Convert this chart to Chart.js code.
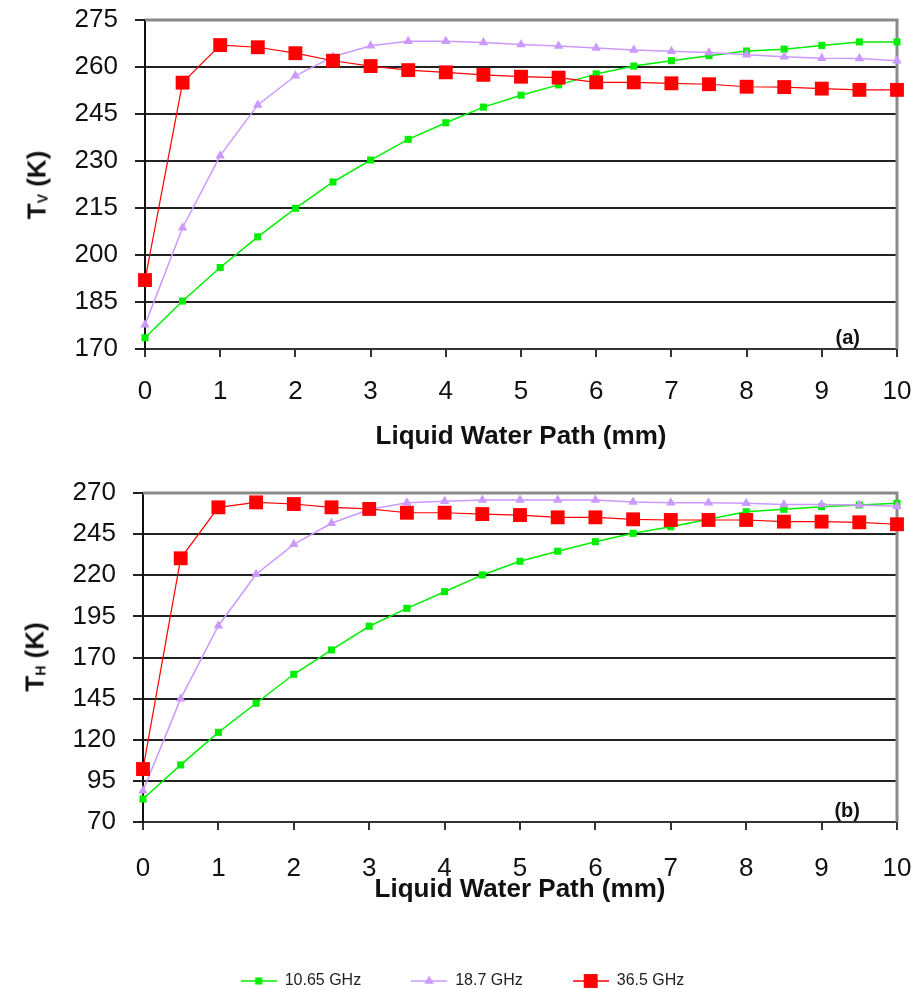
<!DOCTYPE html>
<html>
<head>
<meta charset="utf-8">
<script src="https://cdn.jsdelivr.net/npm/chart.js@4.4.1/dist/chart.umd.min.js"></script>
<style>
  html, body { margin: 0; padding: 0; background: #fff; overflow: hidden; }
  body { width: 924px; height: 989px; position: relative; font-family: "Liberation Sans", Arial, sans-serif; }
  canvas { position: absolute; left: 0; }
  #tvChart { top: 0; }
  #thChart { top: 460px; }
  .ytitle { position: absolute; font-weight: bold; font-size: 26px; white-space: nowrap; color: #111;
            transform: translate(-50%, -50%) rotate(-90deg); }
  .ytitle sub { font-size: 14px; vertical-align: -2px; }
</style>
</head>
<body>
<canvas id="tvChart" width="924" height="460"></canvas>
<canvas id="thChart" width="924" height="539"></canvas>
<div class="ytitle" style="left:37px; top:185px">T<sub>V</sub> (K)</div>
<div class="ytitle" style="left:35px; top:657px">T<sub>H</sub> (K)</div>
<script>
// liquid water path (mm)
const lwp = [0, 0.5, 1, 1.5, 2, 2.5, 3, 3.5, 4, 4.5, 5, 5.5, 6, 6.5, 7, 7.5, 8, 8.5, 9, 9.5, 10];
const seriesNames = ['10.65 GHz', '18.7 GHz', '36.5 GHz'];

// (a) vertical polarisation, K
const tv1065 = [173.6, 185.3, 196, 205.8, 214.9, 223.3, 230.3, 236.9, 242.2, 247.2, 251, 254.3, 257.8, 260.3, 262, 263.6, 265.1, 265.7, 266.9, 268, 268];
const tv187 = [177.7, 208.7, 231.7, 247.9, 257.2, 263.3, 266.8, 268.2, 268.2, 267.8, 267.2, 266.7, 266.1, 265.4, 265, 264.6, 263.9, 263.3, 262.8, 262.7, 262];
const tv365 = [192, 255, 267, 266.3, 264.4, 262, 260.3, 259, 258.3, 257.5, 256.9, 256.6, 255.1, 255.1, 254.8, 254.5, 253.7, 253.6, 253.1, 252.7, 252.7];

// (b) horizontal polarisation, K
const th1065 = [84, 104.7, 124.5, 142.2, 159.8, 174.6, 189, 199.9, 210, 220.2, 228.5, 234.6, 240.4, 245.5, 249.5, 254, 258.6, 260.1, 261.7, 262.7, 263.7];
const th187 = [89, 145, 189.3, 220.6, 238.8, 251.6, 260, 264.1, 265, 265.7, 265.7, 265.7, 265.7, 264.5, 264.1, 264.1, 263.7, 263, 263, 262.7, 262];
const th365 = [102.2, 230.3, 261.3, 264.3, 263.3, 261.3, 260.3, 258, 258, 257.2, 256.6, 255.2, 255.2, 254, 253.6, 253.6, 253.6, 252.6, 252.6, 252.2, 251];

const tvAxis = { min: 170, max: 275, step: 15 };
const thAxis = { min: 70, max: 270, step: 25 };
const xAxis = { min: 0, max: 10, step: 1 };

const FONT = '"Liberation Sans", Arial, sans-serif';
const styles = [
  { color: '#00ee00', pointStyle: 'rect', radius: 5, width: 1.5 },
  { color: '#cc99ff', pointStyle: 'triangle', radius: 5.5, width: 1.5 },
  { color: '#ff0000', pointStyle: 'rect', radius: 9.8, width: 1.2 }
];

// legend icons: short line with the marker in the middle
const legendIcons = styles.map(s => {
  const c = document.createElement('canvas');
  c.width = 36; c.height = 16;
  const g = c.getContext('2d');
  g.strokeStyle = s.color; g.fillStyle = s.color; g.lineWidth = 1.5;
  g.beginPath(); g.moveTo(0, 8); g.lineTo(36, 8); g.stroke();
  Chart.helpers.drawPoint(g, { pointStyle: s.pointStyle, radius: s.radius, borderWidth: 0, rotation: 0 }, 18, 8);
  return c;
});

const framePlugin = {
  id: 'frame',
  beforeDatasetsDraw(chart, args, opts) {
    const { ctx, chartArea: a } = chart;
    ctx.save();
    ctx.strokeStyle = '#8a8a8a';
    ctx.lineWidth = 3;
    ctx.beginPath();
    ctx.moveTo(a.left, a.top);
    ctx.lineTo(a.right, a.top);
    ctx.lineTo(a.right, a.bottom);
    ctx.stroke();
    ctx.font = 'bold 20px ' + FONT;
    ctx.fillStyle = '#111';
    ctx.textAlign = 'right';
    ctx.textBaseline = 'alphabetic';
    ctx.fillText(opts.label, a.right - 37, a.bottom - 5);
    ctx.restore();
  }
};

function makeChart(id, values, yr, cfg) {
  const datasets = values.map((v, i) => ({
    label: seriesNames[i],
    data: lwp.map((x, j) => ({ x: x, y: v[j] })),
    borderColor: styles[i].color,
    backgroundColor: styles[i].color,
    borderWidth: styles[i].width,
    pointStyle: styles[i].pointStyle,
    pointRadius: styles[i].radius,
    pointBorderWidth: 0,
    tension: 0,
    clip: false,
    order: 2 - i
  }));
  return new Chart(document.getElementById(id), {
    type: 'line',
    data: { datasets },
    plugins: [framePlugin],
    options: {
      responsive: false,
      animation: false,
      layout: { padding: { left: cfg.left, right: 27, top: cfg.top, bottom: 0 } },
      plugins: {
        frame: { label: cfg.label },
        tooltip: { enabled: false },
        legend: {
          display: cfg.legend,
          position: 'bottom',
          labels: {
            usePointStyle: true,
            pointStyleWidth: 36,
            padding: 50,
            color: '#222',
            font: { size: 16, family: FONT },
            generateLabels(chart) {
              const items = Chart.defaults.plugins.legend.labels.generateLabels(chart);
              items.sort((a, b) => a.datasetIndex - b.datasetIndex);
              items.forEach(it => { it.pointStyle = legendIcons[it.datasetIndex]; it.rotation = 0; });
              return items;
            }
          }
        }
      },
      scales: {
        x: {
          type: 'linear', min: xAxis.min, max: xAxis.max,
          ticks: { stepSize: xAxis.step, color: '#111', padding: cfg.tickPad, maxRotation: 0, font: { size: 26, family: FONT } },
          grid: { drawOnChartArea: false, drawTicks: true, tickLength: 8, color: '#333', lineWidth: 2 },
          border: { color: '#333', width: 2 },
          title: { display: true, text: 'Liquid Water Path (mm)', color: '#111',
                   font: { size: 26, weight: 'bold', family: FONT }, padding: { top: 0, bottom: cfg.titlePad } },
          afterFit(s) { s.height = cfg.xHeight; s.paddingLeft = 0; s.paddingRight = 0; }
        },
        y: {
          min: yr.min, max: yr.max,
          ticks: { stepSize: yr.step, color: '#111', padding: 17, font: { size: 26, family: FONT } },
          grid: { color: '#222', lineWidth: 2, tickLength: 10 },
          border: { color: '#111', width: 2 },
          afterFit(s) { s.width = cfg.yWidth; s.paddingTop = 0; s.paddingBottom = 0; }
        }
      }
    }
  });
}

makeChart('tvChart', [tv1065, tv187, tv365], tvAxis,
  { left: 0, top: 20, xHeight: 111, titlePad: 8, tickPad: 19, yWidth: 145, label: '(a)', legend: false });
makeChart('thChart', [th1065, th187, th365], thAxis,
  { left: 28, top: 33, xHeight: 101, titlePad: 18, tickPad: 23, yWidth: 115, label: '(b)', legend: true });
</script>
</body>
</html>
